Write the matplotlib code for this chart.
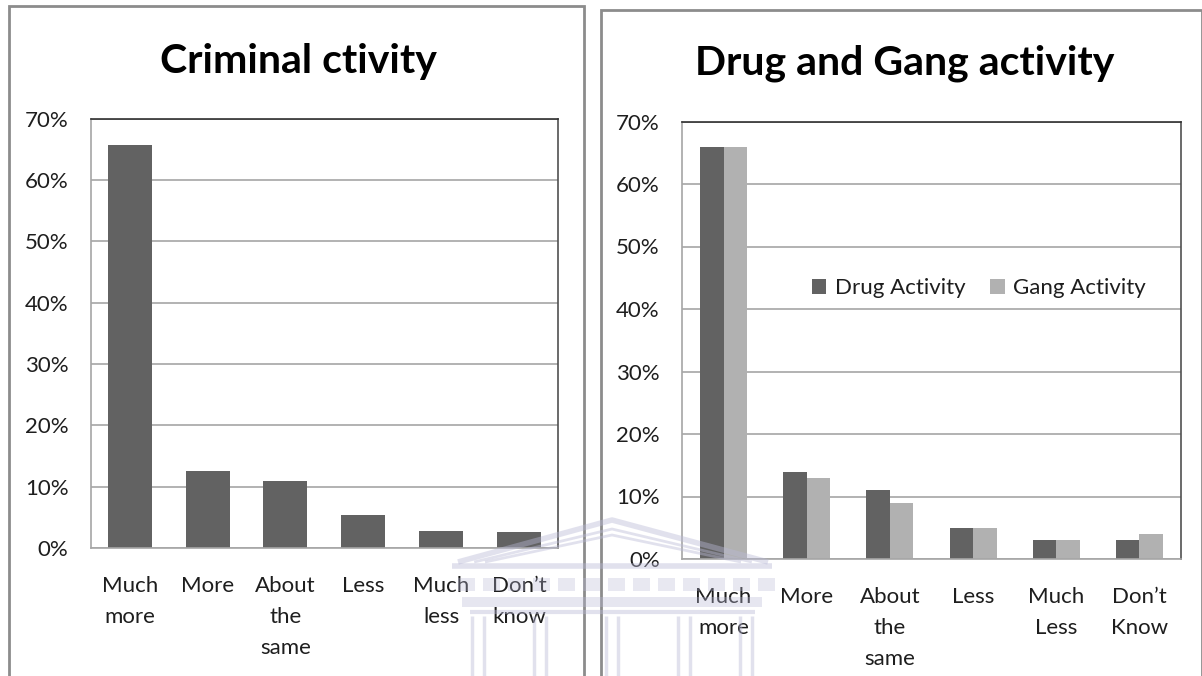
import matplotlib
matplotlib.use("Agg")
import matplotlib.pyplot as plt
from matplotlib.patches import Rectangle, Patch
from matplotlib.ticker import FuncFormatter
import numpy as np

plt.rcParams['font.family'] = ['Lato', 'DejaVu Sans']

# ---- data ----
crime_categories = ["Much\nmore", "More", "About\nthe\nsame", "Less", "Much\nless", "Don\u2019t\nknow"]
crime_values = [65.7, 12.6, 10.9, 5.3, 2.8, 2.6]

drug_gang_categories = ["Much\nmore", "More", "About\nthe\nsame", "Less", "Much\nLess", "Don\u2019t\nKnow"]
drug_values = [66, 14, 11, 5, 3, 3]
gang_values = [66, 13, 9, 5, 3, 4]

yticks = [0, 10, 20, 30, 40, 50, 60, 70]

DARK = "#626262"
LIGHT = "#b1b1b1"
GRID = "#a6a6a6"
TEXT = "#1e1e1e"
STAMP = "#b9b9d6"

W, H = 1202, 676
fig = plt.figure(figsize=(W / 100, H / 100), dpi=100)
fig.patch.set_facecolor("white")


def px_axes(x0, y_top, x1, y_bot, **kw):
    return fig.add_axes([x0 / W, 1 - y_bot / H, (x1 - x0) / W, (y_bot - y_top) / H], **kw)


def style_axes(ax, labels):
    ax.set_ylim(0, 70)
    ax.set_xlim(-0.5, len(labels) - 0.5)
    ax.set_yticks(yticks)
    ax.yaxis.set_major_formatter(FuncFormatter(lambda v, p: f"{int(v)}%"))
    ax.set_xticks(range(len(labels)))
    ax.set_xticklabels(labels)
    ax.grid(axis="y", color=GRID, linewidth=1.2)
    ax.set_axisbelow(True)
    ax.tick_params(axis="both", length=0, labelsize=16, labelcolor=TEXT)
    ax.tick_params(axis="y", pad=16)
    ax.tick_params(axis="x", pad=20)
    for t in ax.get_xticklabels():
        t.set_linespacing(1.7)
        t.set_verticalalignment("top")
    ax.spines["left"].set_color(GRID)
    ax.spines["bottom"].set_color(GRID)
    ax.spines["top"].set_color("#303030")
    ax.spines["right"].set_color("#505050")
    for s in ax.spines.values():
        s.set_linewidth(1.2)


# ---- panel frames ----
fig.patches.append(Rectangle((9 / W, -0.05), (584 - 9) / W, 1.05 - 6 / H,
                             transform=fig.transFigure, fill=False,
                             edgecolor="#8c8c8c", linewidth=2))
fig.patches.append(Rectangle((601 / W, -0.05), 0.5, 1.05 - 10 / H,
                             transform=fig.transFigure, fill=False,
                             edgecolor="#8c8c8c", linewidth=2))

# ---- left chart: criminal activity ----
ax1 = px_axes(90.7, 118.5, 558, 548)
x = np.arange(len(crime_categories))
ax1.bar(x, crime_values, width=0.565, color=DARK, zorder=2)
style_axes(ax1, crime_categories)
fig.text(298 / W, 1 - 61 / H, "Criminal ctivity", ha="center", va="center",
         fontsize=29.5, fontweight="bold", color="black")

# ---- right chart: drug and gang activity ----
ax2 = px_axes(682, 121.5, 1181, 559)
x = np.arange(len(drug_gang_categories))
bw = 0.283
ax2.bar(x - bw / 2, drug_values, width=bw, color=DARK, zorder=2)
ax2.bar(x + bw / 2, gang_values, width=bw, color=LIGHT, zorder=2)
style_axes(ax2, drug_gang_categories)
fig.text(905 / W, 1 - 63 / H, "Drug and Gang activity", ha="center", va="center",
         fontsize=29.5, fontweight="bold", color="black")

handles = [Patch(facecolor=DARK, edgecolor="none", label="Drug Activity"),
           Patch(facecolor=LIGHT, edgecolor="none", label="Gang Activity")]
fig.legend(handles=handles, loc="center", bbox_to_anchor=(979 / W, 1 - 288 / H),
           ncol=2, frameon=False, fontsize=16, handlelength=0.65, handleheight=0.65,
           handletextpad=0.4, columnspacing=1.1, labelcolor=TEXT)

# ---- faint building emblem across the lower middle ----
em = px_axes(0, 0, W, H, zorder=10)
em.set_xlim(0, W)
em.set_ylim(H, 0)
em.axis("off")
em.patch.set_alpha(0)
kw = dict(color=STAMP, alpha=0.42, solid_capstyle="butt")
for off, lw in [(0, 4), (9, 2), (15, 2)]:
    em.plot([458 + off * 1.8, 612, 768 - off * 1.8], [562, 520 + off, 562], lw=lw, **kw)
em.plot([452, 772], [566, 566], lw=4, **kw)
for x0 in np.arange(458, 768, 25):
    em.add_patch(Rectangle((x0, 578), 17, 13, facecolor=STAMP, edgecolor="none", alpha=0.32))
em.add_patch(Rectangle((462, 597), 300, 10, facecolor=STAMP, edgecolor="none", alpha=0.35))
em.plot([470, 755], [612, 612], lw=3, **kw)
for cx in [478, 540, 612, 684, 746]:
    for dx in (-6, 6):
        em.plot([cx + dx, cx + dx], [616, 676], lw=2.5, **kw)

fig.savefig("out.png", dpi=100, facecolor="white")
